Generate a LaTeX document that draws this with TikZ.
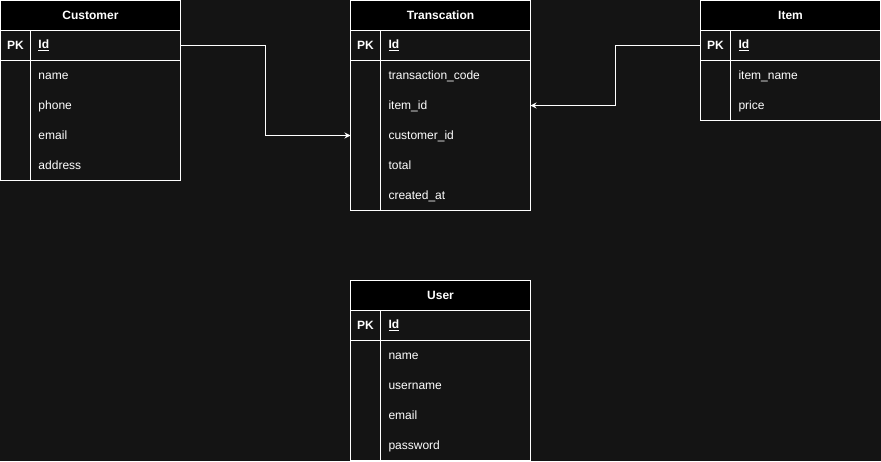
\documentclass[tikz,border=0pt]{standalone}
\usepackage{fontspec}
\setmainfont{Liberation Sans}
\usetikzlibrary{arrows.meta}
\definecolor{canvas}{HTML}{141414}

\begin{document}
\begin{tikzpicture}
[ x=0.75pt, y=-0.75pt, line width=0.75pt, white, outer sep=0pt, font=\fontsize{9}{11}\selectfont
, title/.style={rectangle, draw, fill=black, minimum width=135pt, minimum height=22.5pt, inner sep=0pt, font=\fontsize{9}{11}\selectfont\bfseries}
, keycell/.style={rectangle, draw, fill=canvas, minimum width=22.5pt, minimum height=22.5pt, inner sep=0pt, font=\fontsize{9}{11}\selectfont\bfseries}
, idcell/.style={rectangle, draw, fill=canvas, minimum height=22.5pt, inner xsep=6pt, inner ysep=0pt, text width=100.5pt, align=left, font=\fontsize{9}{11}\selectfont\bfseries}
, tablebody/.style={rectangle, draw, fill=canvas, minimum width=135pt, inner sep=0pt}
, field/.style={anchor=west, inner sep=0pt, text height=1.5ex, text depth=0.4ex}
, link/.style={-{Stealth[length=4.5pt, width=4.5pt]}}
]
\fill [canvas] (0,0) rectangle (881,461);
\useasboundingbox (0,0) rectangle (881,461);
% Customer
\node (cust) [title, anchor=north west] at (0.5,0.5) {Customer};
\node (custpk) [keycell, anchor=north west] at (cust.south west) {PK};
\node (custid) [idcell, anchor=west] at (custpk.east) {\underline{Id}};
\node (custbody) [tablebody, minimum height=90pt, anchor=north west] at (custpk.south west) {};
\draw (custpk.south east) -- (custpk.south east |- custbody.south);
\foreach \f [count=\i] in {name, phone, email, address}
  \node (cust-\i) [field] at (38.5, 45.5+30*\i) {\f};
% Transcation
\node (trans) [title, anchor=north west] at (350.5,0.5) {Transcation};
\node (transpk) [keycell, anchor=north west] at (trans.south west) {PK};
\node (transid) [idcell, anchor=west] at (transpk.east) {\underline{Id}};
\node (transbody) [tablebody, minimum height=112.5pt, anchor=north west] at (transpk.south west) {};
\draw (transpk.south east) -- (transpk.south east |- transbody.south);
\foreach \f [count=\i] in {transaction\_code, item\_id, customer\_id, total, created\_at}
  \node (trans-\i) [field] at (388.5, 45.5+30*\i) {\f};
% Item
\node (item) [title, anchor=north west] at (700.5,0.5) {Item};
\node (itempk) [keycell, anchor=north west] at (item.south west) {PK};
\node (itemid) [idcell, anchor=west] at (itempk.east) {\underline{Id}};
\node (itembody) [tablebody, minimum height=45pt, anchor=north west] at (itempk.south west) {};
\draw (itempk.south east) -- (itempk.south east |- itembody.south);
\foreach \f [count=\i] in {item\_name, price}
  \node (item-\i) [field] at (738.5, 45.5+30*\i) {\f};
% User
\node (user) [title, anchor=north west] at (350.5,280.5) {User};
\node (userpk) [keycell, anchor=north west] at (user.south west) {PK};
\node (userid) [idcell, anchor=west] at (userpk.east) {\underline{Id}};
\node (userbody) [tablebody, minimum height=90pt, anchor=north west] at (userpk.south west) {};
\draw (userpk.south east) -- (userpk.south east |- userbody.south);
\foreach \f [count=\i] in {name, username, email, password}
  \node (user-\i) [field] at (388.5, 325.5+30*\i) {\f};
% links
\coordinate (bendc) at (265.5,45.5);
\coordinate (bendi) at (615.5,45.5);
\draw [link] (custid.east) -- (bendc) |- (trans-3 -| trans.west);
\draw [link] (itempk.west) -- (bendi) |- (trans-2 -| trans.east);
\end{tikzpicture}
\end{document}
